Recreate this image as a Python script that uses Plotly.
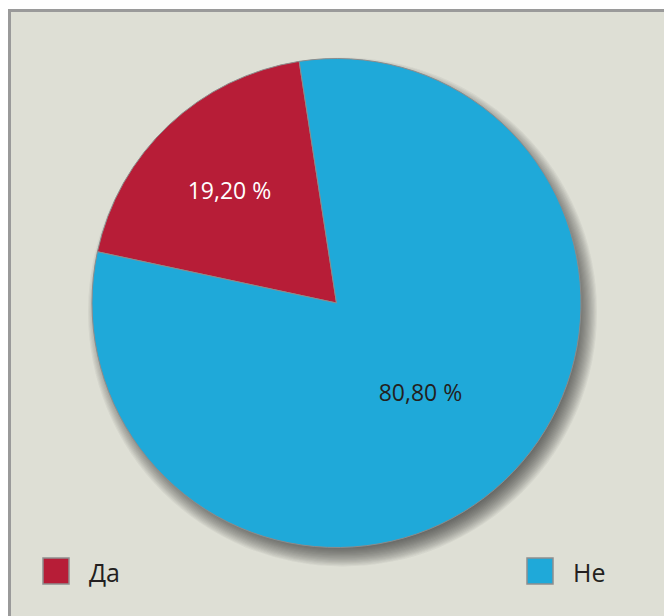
import plotly.graph_objects as go

labels = ["Да", "Не"]
values = [19.20, 80.80]
colors = ["#b71d37", "#1fa9d9"]
text_colors = ["#ffffff", "#231f20"]
text_labels = ["19,20 %", "80,80 %"]

W, H = 664, 616
BG = "#dedfd5"

def px(x):
    return x / W

def py(y):
    return 1 - y / H

cx, cy, R = 336.5, 303.0, 244.5

fig = go.Figure()
fig.add_trace(go.Pie(
    labels=labels,
    values=values,
    sort=False,
    direction="counterclockwise",
    rotation=-77.9,
    marker=dict(colors=colors, line=dict(color="#8c8c8c", width=1)),
    text=text_labels,
    textinfo="text",
    textposition="inside",
    insidetextorientation="horizontal",
    textfont=dict(family="Open Sans", size=23, color=text_colors),
    hoverinfo="label+percent",
    showlegend=False,
    domain=dict(x=[px(cx - R), px(cx + R)], y=[py(cy + R), py(cy - R)]),
))

shapes = []
# frame / background
shapes.append(dict(type="rect", xref="paper", yref="paper",
                   x0=px(9.5), x1=px(700), y0=py(10.5), y1=py(660),
                   fillcolor=BG, line=dict(color="#9a9a9a", width=3), layer="below"))
# drop shadow (soft, offset down-right)
offx, offy = 6, 9
n = 22
for k in range(n):
    r = R - 14 + k * (24.0 / (n - 1))
    shapes.append(dict(type="circle", xref="paper", yref="paper",
                       x0=px(cx + offx - r), x1=px(cx + offx + r),
                       y0=py(cy + offy + r), y1=py(cy + offy - r),
                       fillcolor="rgba(45,45,40,0.05)", line=dict(width=0), layer="below"))

annotations = []
legend_x = [43, 527]
sq = 26
ly = 571
for i, lab in enumerate(labels):
    x0 = legend_x[i]
    shapes.append(dict(type="rect", xref="paper", yref="paper",
                       x0=px(x0), x1=px(x0 + sq), y0=py(ly + sq / 2), y1=py(ly - sq / 2),
                       fillcolor=colors[i], line=dict(color="#8f8f8f", width=1.5)))
    annotations.append(dict(text=lab, xref="paper", yref="paper",
                            x=px(x0 + sq + 18), y=py(ly + 1), xanchor="left", yanchor="middle",
                            showarrow=False,
                            font=dict(family="Open Sans", size=25, color="#231f20")))

fig.update_layout(
    width=W, height=H,
    margin=dict(l=0, r=0, t=0, b=0),
    paper_bgcolor="#ffffff",
    plot_bgcolor="#ffffff",
    shapes=shapes,
    annotations=annotations,
    showlegend=False,
)

fig.write_html("out.html",
               config={"displayModeBar": False},
               post_script="document.body.style.margin='0';document.body.style.overflow='hidden';")
